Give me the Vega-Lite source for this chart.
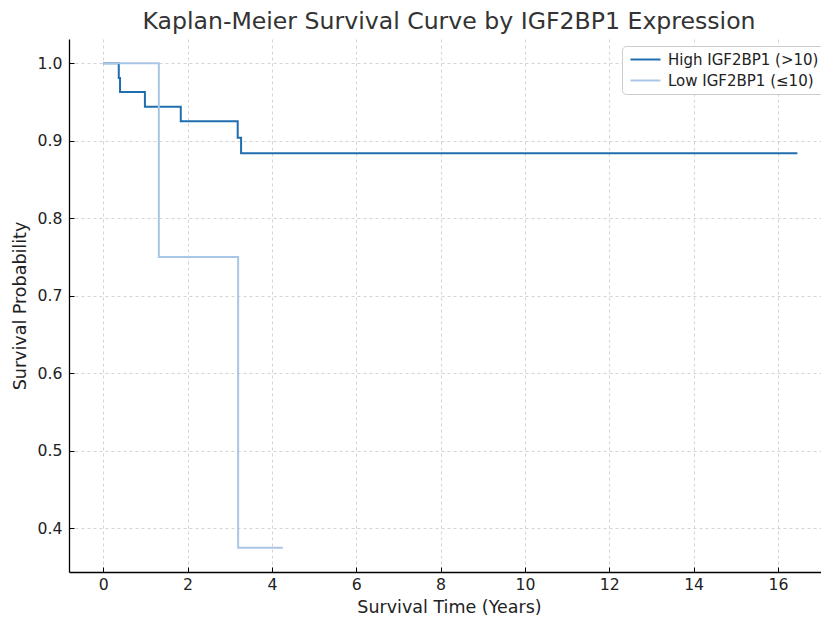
{
  "$schema": "https://vega.github.io/schema/vega-lite/v6.json",
  "autosize": "none",
  "width": 752,
  "height": 533,
  "padding": {"left": 69, "top": 39, "right": 0, "bottom": 49},
  "background": "white",
  "config": {
    "font": "DejaVu Sans",
    "view": {"stroke": null},
    "axis": {
      "labelFont": "DejaVu Sans",
      "titleFont": "DejaVu Sans",
      "labelFontSize": 15.7,
      "titleFontSize": 17.5,
      "labelColor": "#222222",
      "titleColor": "#222222",
      "titleFontWeight": "normal",
      "domainColor": "#000000",
      "domainWidth": 1.3,
      "tickColor": "#000000",
      "tickSize": -5,
      "tickWidth": 1,
      "gridColor": "#c8c8c8",
      "gridDash": [3, 3],
      "gridWidth": 0.8
    }
  },
  "title": {
    "text": "Kaplan-Meier Survival Curve by IGF2BP1 Expression",
    "font": "DejaVu Sans",
    "fontSize": 23.6,
    "fontWeight": "normal",
    "color": "#333333",
    "anchor": "middle",
    "dx": 4,
    "offset": 5
  },
  "data": {
    "values": [
      {"time": 0, "surv": 1.0, "group": "High IGF2BP1 (>10)"},
      {"time": 0.37, "surv": 0.981, "group": "High IGF2BP1 (>10)"},
      {"time": 0.40, "surv": 0.963, "group": "High IGF2BP1 (>10)"},
      {"time": 0.99, "surv": 0.944, "group": "High IGF2BP1 (>10)"},
      {"time": 1.84, "surv": 0.925, "group": "High IGF2BP1 (>10)"},
      {"time": 3.19, "surv": 0.904, "group": "High IGF2BP1 (>10)"},
      {"time": 3.27, "surv": 0.884, "group": "High IGF2BP1 (>10)"},
      {"time": 16.46, "surv": 0.884, "group": "High IGF2BP1 (>10)"},
      {"time": 0, "surv": 1.0, "group": "Low IGF2BP1 (≤10)"},
      {"time": 1.32, "surv": 0.75, "group": "Low IGF2BP1 (≤10)"},
      {"time": 3.20, "surv": 0.375, "group": "Low IGF2BP1 (≤10)"},
      {"time": 4.26, "surv": 0.375, "group": "Low IGF2BP1 (≤10)"}
    ]
  },
  "mark": {"type": "line", "interpolate": "step-after", "strokeWidth": 2, "clip": true},
  "encoding": {
    "x": {
      "field": "time",
      "type": "quantitative",
      "title": "Survival Time (Years)",
      "scale": {"domain": [-0.81, 17.02], "nice": false, "zero": false},
      "axis": {"values": [0, 2, 4, 6, 8, 10, 12, 14, 16], "titlePadding": 7, "labelPadding": 10, "titleX": 380}
    },
    "y": {
      "field": "surv",
      "type": "quantitative",
      "title": "Survival Probability",
      "scale": {"domain": [0.34375, 1.03125], "nice": false, "zero": false},
      "axis": {"values": [0.4, 0.5, 0.6, 0.7, 0.8, 0.9, 1.0], "format": ".1f", "titlePadding": 8, "labelPadding": 12}
    },
    "color": {
      "field": "group",
      "type": "nominal",
      "title": null,
      "scale": {"domain": ["High IGF2BP1 (>10)", "Low IGF2BP1 (≤10)"], "range": ["#1f6fb0", "#aac6e6"]},
      "legend": {
        "orient": "none",
        "legendX": 553,
        "legendY": 7,
        "symbolType": "M-2,0H2",
        "symbolSize": 225,
        "symbolStrokeWidth": 2,
        "symbolOffset": 10,
        "labelOffset": 14,
        "labelFontSize": 15,
        "labelFont": "DejaVu Sans",
        "labelColor": "#222222",
        "fillColor": "white",
        "strokeColor": "#cccccc",
        "cornerRadius": 4,
        "padding": 5,
        "rowPadding": 4
      }
    }
  }
}
